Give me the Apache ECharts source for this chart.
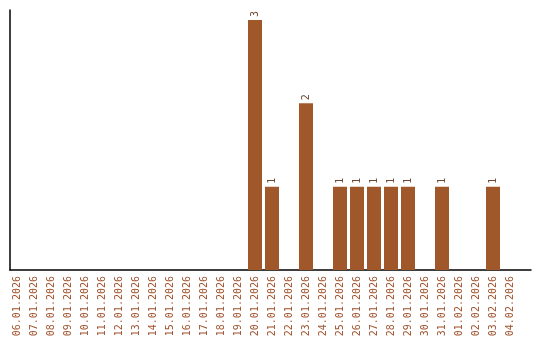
<!DOCTYPE html>
<html><head><meta charset="utf-8">
<script src="https://cdn.jsdelivr.net/npm/echarts@6/dist/echarts.min.js"></script>
<style>html,body{margin:0;padding:0;background:#fff}#c{width:540px;height:340px}</style>
</head><body><div id="c"></div>
<script>
var categories = ["06.01.2026","07.01.2026","08.01.2026","09.01.2026","10.01.2026","11.01.2026","12.01.2026","13.01.2026","14.01.2026","15.01.2026","16.01.2026","17.01.2026","18.01.2026","19.01.2026","20.01.2026","21.01.2026","22.01.2026","23.01.2026","24.01.2026","25.01.2026","26.01.2026","27.01.2026","28.01.2026","29.01.2026","30.01.2026","31.01.2026","01.02.2026","02.02.2026","03.02.2026","04.02.2026"];
var values = [0,0,0,0,0,0,0,0,0,0,0,0,0,0,3,1,0,2,0,1,1,1,1,1,0,1,0,0,1,0];

var chart = echarts.init(document.getElementById('c'), null, {renderer:'canvas'});
chart.setOption({
  animation:false,
  backgroundColor:'#fff',
  grid:[
    {left:10, right:9, top:10, bottom:70},
    {left:8.5, right:21.5, top:10, bottom:70}
  ],
  xAxis:[
    {gridIndex:0, type:'category', data:[''], axisLine:{show:true, lineStyle:{color:'#000', width:1.5}}, axisTick:{show:false}, axisLabel:{show:false}},
    {gridIndex:1, type:'category', data:categories, axisLine:{show:false}, axisTick:{show:false},
     axisLabel:{interval:0, rotate:90, margin:6, fontFamily:'DejaVu Sans Mono', fontSize:10, color:'#A0522D'}}
  ],
  yAxis:[
    {gridIndex:0, type:'value', min:0, max:3.12, axisLine:{show:true, lineStyle:{color:'#000', width:1.5}}, axisTick:{show:false}, axisLabel:{show:false}, splitLine:{show:false}},
    {gridIndex:1, type:'value', min:0, max:3.12, axisLine:{show:false}, axisTick:{show:false}, axisLabel:{show:false}, splitLine:{show:false}}
  ],
  series:[{
    type:'bar', xAxisIndex:1, yAxisIndex:1, data:values.map(function(v){return v===0?null:v;}),
    barWidth:14, itemStyle:{color:'#A0572A'},
    label:{show:true, position:'top', distance:3, rotate:90, align:'left', verticalAlign:'middle',
      fontFamily:'DejaVu Sans Mono', fontSize:10, color:'#6b4a33'}
  }]
});
</script></body></html>
